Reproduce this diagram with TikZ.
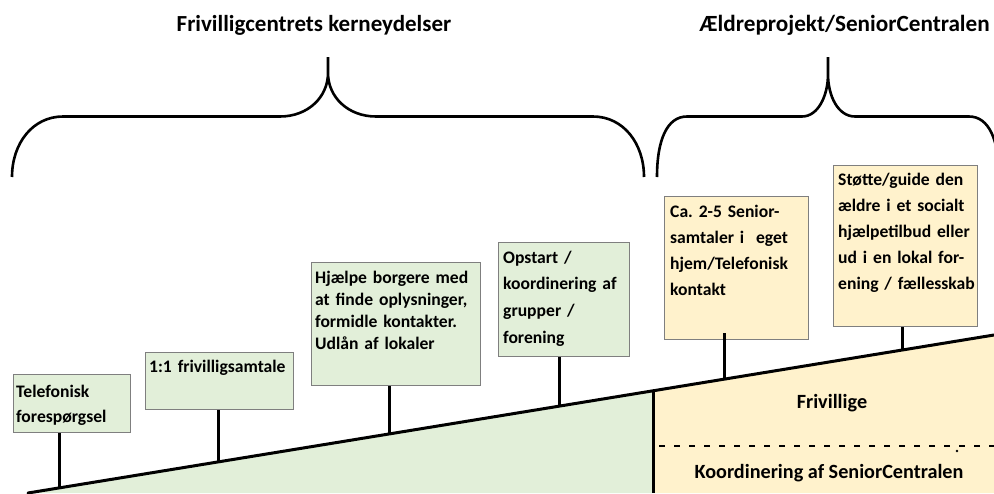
\documentclass[tikz,border=0pt]{standalone}
\usepackage{fontspec}
\setmainfont{Carlito}
\usetikzlibrary{calc}
\definecolor{gfill}{HTML}{E2EFD9}
\definecolor{yfill}{HTML}{FFF2CC}
\definecolor{bord}{HTML}{7F7F7F}
\begin{document}
\frenchspacing
\begin{tikzpicture}[x=1pt,y=-1pt,
  gbox/.style={draw=bord, line width=1pt, fill=gfill, inner sep=0pt, anchor=north west},
  ybox/.style={draw=bord, line width=1pt, fill=yfill, inner sep=0pt, anchor=north west},
  btext/.style={inner sep=0pt, anchor=base west, text width=170pt, align=left,
    font={\fontsize{17.6}{#1}\selectfont\bfseries\frenchspacing}},
  ttl/.style={inner sep=0pt, anchor=base, font={\fontsize{#1}{27}\selectfont\bfseries}},
  lbl/.style={inner sep=0pt, anchor=base, font={\fontsize{20.2}{24}\selectfont\bfseries}},
  brace/.style={line width=2.6pt, line cap=butt, line join=round},
  stem/.style={line width=3pt},
  axis/.style={line width=3pt, line cap=round}]
\useasboundingbox (0,0) rectangle (994,493);
% ground areas
\coordinate (L) at (28,493);
\coordinate (M) at (653,390.8);
\coordinate (R) at (994,335);
\coordinate (MB) at (653,493);
\coordinate (RB) at (994,493);
\fill[gfill] (L) -- (M) -- (MB) -- cycle;
\fill[yfill] (M) -- (R) -- (RB) -- (MB) -- cycle;
\draw[axis] (L) -- (M) -- (R);
\draw[stem] (M) -- (MB);
% dashed separator
\coordinate (d1) at (659,446);
\coordinate (d2) at (994,446);
\draw[line width=2.6pt, dash pattern=on 6pt off 9pt] (d1) -- (d2);
\fill (957,451) circle (1.4pt);
% labels in the right area
\node[lbl] (fr) at (832,408) {Frivillige};
\node[lbl] (ko) at (829,478) {Koordinering af SeniorCentralen};
% titles
\node[ttl=23] (h1) at (314,31) {Frivilligcentrets kerneydelser};
\node[ttl=23.2, anchor=base east] (h2) at (990,31) {Ældreprojekt/SeniorCentralen};
% braces
\draw[brace] (12,177) .. controls (12,143) and (33,116.5) .. (63,116.5)
  -- (280,116.5) .. controls (308,116.5) and (328,97) .. (328,73) -- (328,57)
  (328,73) .. controls (328,97) and (348,116.5) .. (376,116.5)
  -- (593,116.5) .. controls (623,116.5) and (644,143) .. (644,177);
\draw[brace] (657,177) .. controls (657,140) and (667,116.5) .. (687,116.5)
  -- (802,116.5) .. controls (818,116.5) and (828,96) .. (828,74) -- (828,57)
  (828,74) .. controls (828,96) and (838,116.5) .. (855,116.5)
  -- (969,116.5) .. controls (989,116.5) and (999,140) .. (999,177);
% boxes
\node[gbox, minimum width=117pt, minimum height=58pt] (b1) at (13,374) {};
\node[gbox, minimum width=148pt, minimum height=57pt] (b2) at (145,352) {};
\node[gbox, minimum width=169pt, minimum height=123pt] (b3) at (311,262) {};
\node[gbox, minimum width=131pt, minimum height=114pt] (b4) at (498,242) {};
\node[ybox, minimum width=144pt, minimum height=143pt] (b5) at (664,196) {};
\node[ybox, minimum width=144pt, minimum height=161pt] (b6) at (833,165) {};
% box texts
\node[btext=25] (t1) at (16,397) {Telefonisk\\forespørgsel};
\node[btext=25] (t2) at (149,372) {1:1 frivilligsamtale};
\node[btext=22] (t3) at (315,283) {Hjælpe borgere med\\at finde oplysninger,\\formidle kontakter.\\Udlån af lokaler};
\node[btext=26.7] (t4) at (503,263) {Opstart /\\koordinering af\\grupper /\\forening};
\node[btext=26.3] (t5) at (670,217) {Ca. 2-5 Senior-\\samtaler i~ eget\\hjem/Telefonisk\\kontakt};
\node[btext=26.2] (t6) at (838,185) {Støtte/guide den\\ældre i et socialt\\hjælpetilbud eller\\ud i en lokal for-\\ening / fællesskab};
% stems
\coordinate (s1) at (59,488);
\coordinate (s2) at (218,462);
\coordinate (s3) at (389,434);
\coordinate (s4) at (559,406.2);
\coordinate (s5) at (724,379.2);
\coordinate (s6) at (902,350.1);
\coordinate (u5) at (724,333);
\draw[stem] (s1 |- b1.south) -- (s1);
\draw[stem] (s2 |- b2.south) -- (s2);
\draw[stem] (s3 |- b3.south) -- (s3);
\draw[stem] (s4 |- b4.south) -- (s4);
\draw[stem] (u5) -- (s5);
\draw[stem] (s6 |- b6.south) -- (s6);
\end{tikzpicture}
\end{document}
